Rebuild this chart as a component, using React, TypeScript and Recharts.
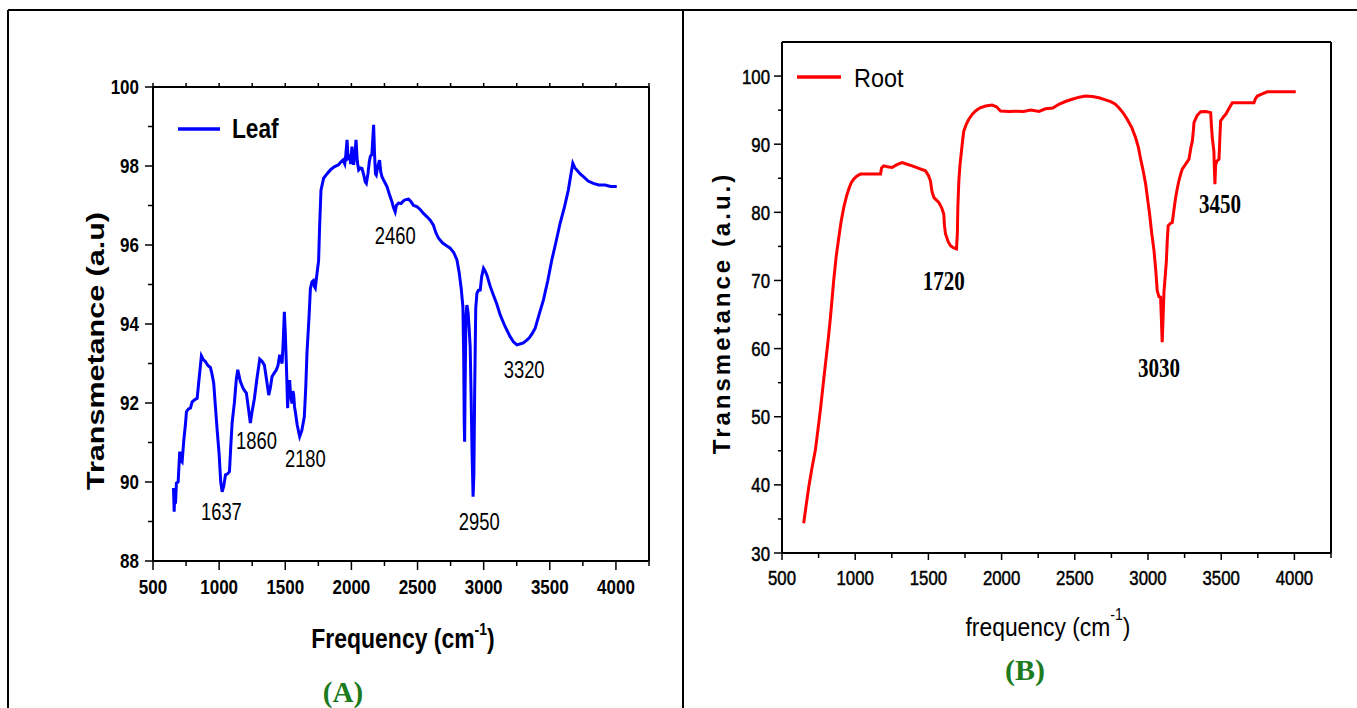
import React from 'react';
import { LineChart, Line, XAxis, YAxis, ReferenceDot, Legend } from 'recharts';

// ---------- Leaf (A) spectrum ----------
const leafFreq = [655, 660, 665, 670, 677, 690, 702, 710, 720, 733, 745, 753, 768, 783, 796, 815, 834, 845, 866, 880, 896, 915, 934, 945, 959, 972, 985, 1000, 1012, 1023, 1035, 1048, 1062, 1078, 1088, 1098, 1115, 1130, 1141, 1160, 1181, 1195, 1206, 1222, 1236, 1250, 1267, 1285, 1307, 1325, 1342, 1358, 1375, 1388, 1400, 1415, 1433, 1445, 1458, 1468, 1476, 1485, 1493, 1500, 1510, 1518, 1525, 1533, 1540, 1551, 1558, 1564, 1570, 1576, 1590, 1609, 1625, 1644, 1655, 1664, 1680, 1690, 1702, 1712, 1720, 1727, 1740, 1752, 1760, 1770, 1790, 1815, 1841, 1870, 1903, 1920, 1936, 1950, 1958, 1967, 1975, 1986, 1995, 2004, 2010, 2017, 2026, 2035, 2045, 2055, 2068, 2080, 2095, 2105, 2113, 2125, 2135, 2143, 2155, 2162, 2168, 2175, 2182, 2188, 2200, 2213, 2222, 2231, 2250, 2269, 2290, 2306, 2318, 2331, 2340, 2357, 2375, 2395, 2410, 2432, 2450, 2470, 2495, 2520, 2545, 2570, 2596, 2620, 2640, 2659, 2690, 2720, 2747, 2775, 2798, 2815, 2830, 2843, 2849, 2853, 2856, 2860, 2866, 2873, 2882, 2890, 2898, 2905, 2912, 2920, 2926, 2932, 2940, 2949, 2960, 2974, 2985, 2999, 3010, 3024, 3050, 3074, 3100, 3125, 3160, 3200, 3225, 3251, 3280, 3300, 3326, 3345, 3365, 3389, 3420, 3452, 3485, 3515, 3545, 3578, 3610, 3640, 3660, 3674, 3690, 3704, 3730, 3754, 3790, 3829, 3870, 3918, 3960, 4006];
const leafTrans = [89.85, 89.25, 89.75, 89.45, 89.97, 90.0, 90.77, 90.55, 90.51, 91.06, 91.45, 91.78, 91.85, 91.87, 92.03, 92.08, 92.12, 92.5, 93.19, 93.1, 93.05, 92.95, 92.9, 92.75, 92.5, 91.9, 91.32, 90.7, 90.0, 89.75, 89.9, 90.18, 90.2, 90.26, 90.9, 91.49, 92.0, 92.6, 92.84, 92.55, 92.37, 92.3, 92.25, 91.85, 91.49, 91.8, 92.12, 92.6, 93.11, 93.05, 92.96, 92.6, 92.2, 92.4, 92.67, 92.75, 92.84, 92.95, 93.22, 93.1, 93.0, 93.6, 94.31, 93.8, 92.8, 91.87, 92.4, 92.58, 92.2, 91.99, 92.3, 92.2, 91.9, 91.78, 91.45, 91.15, 91.3, 91.65, 92.4, 93.26, 94.2, 94.9, 95.07, 95.1, 94.95, 94.91, 95.28, 95.6, 96.5, 97.39, 97.69, 97.8, 97.9, 97.98, 98.03, 98.1, 98.15, 98.05, 98.3, 98.66, 98.2, 98.24, 98.05, 98.49, 98.2, 98.03, 98.3, 98.66, 98.1, 97.9, 97.95, 97.94, 97.75, 97.6, 97.56, 97.8, 98.1, 98.24, 98.3, 98.7, 99.04, 98.3, 97.8, 97.77, 98.0, 98.15, 97.85, 97.73, 97.6, 97.48, 97.25, 97.1, 96.95, 96.84, 97.0, 97.06, 97.05, 97.12, 97.15, 97.16, 97.1, 97.0, 96.97, 96.9, 96.8, 96.72, 96.63, 96.5, 96.3, 96.17, 96.05, 95.98, 95.92, 95.8, 95.62, 95.3, 94.9, 94.44, 93.2, 91.5, 91.02, 92.5, 94.2, 94.48, 94.3, 93.9, 93.43, 92.2, 90.8, 89.63, 90.2, 92.3, 94.4, 94.78, 94.85, 94.86, 95.2, 95.41, 95.35, 95.24, 94.95, 94.73, 94.5, 94.23, 93.95, 93.68, 93.55, 93.47, 93.5, 93.52, 93.59, 93.65, 93.75, 93.89, 94.25, 94.61, 95.1, 95.62, 96.05, 96.55, 96.95, 97.39, 97.8, 98.07, 97.95, 97.9, 97.8, 97.73, 97.62, 97.56, 97.52, 97.52, 97.48, 97.48];

const leafPeakLabels = ['1637', '1860', '2180', '2460', '2950', '3320'];
const leafPeakFreq = [1017, 1282, 1652, 2332, 2966, 3306];
const leafPeakTrans = [89.24, 91.04, 90.58, 96.23, 88.99, 92.84];

const leafXTicks = [500, 750, 1000, 1250, 1500, 1750, 2000, 2250, 2500, 2750, 3000, 3250, 3500, 3750, 4000, 4250];
const leafXLabels = [500, 1000, 1500, 2000, 2500, 3000, 3500, 4000];
const leafYTicks = [88, 89, 90, 91, 92, 93, 94, 95, 96, 97, 98, 99, 100];
const leafYLabels = [88, 90, 92, 94, 96, 98, 100];

// ---------- Root (B) spectrum ----------
const rootFreq = [648, 665, 683, 705, 728, 745, 762, 780, 797, 815, 831, 843, 853, 870, 888, 905, 922, 940, 956, 972, 990, 1010, 1036, 1100, 1173, 1180, 1195, 1220, 1252, 1285, 1320, 1350, 1389, 1430, 1480, 1500, 1514, 1525, 1537, 1555, 1571, 1590, 1605, 1610, 1617, 1635, 1651, 1670, 1692, 1698, 1701, 1708, 1716, 1726, 1735, 1742, 1760, 1776, 1800, 1822, 1850, 1890, 1935, 1965, 1993, 2050, 2100, 2150, 2200, 2255, 2300, 2350, 2391, 2440, 2482, 2530, 2574, 2620, 2665, 2710, 2745, 2775, 2801, 2830, 2858, 2890, 2915, 2935, 2950, 2968, 2984, 3000, 3011, 3025, 3041, 3053, 3063, 3075, 3086, 3092, 3097, 3103, 3109, 3117, 3125, 3132, 3138, 3155, 3166, 3178, 3189, 3200, 3211, 3223, 3234, 3255, 3280, 3293, 3303, 3310, 3314, 3335, 3360, 3395, 3428, 3434, 3439, 3450, 3454, 3457, 3462, 3470, 3485, 3490, 3496, 3515, 3531, 3555, 3576, 3650, 3724, 3735, 3747, 3780, 3815, 3900, 4009];
const rootTrans = [34.36, 37.0, 39.72, 42.5, 45.1, 48.0, 50.95, 54.5, 57.79, 61.2, 64.6, 67.5, 69.99, 73.5, 76.3, 78.8, 80.72, 82.3, 83.41, 84.3, 84.88, 85.3, 85.61, 85.61, 85.61, 86.5, 86.82, 86.7, 86.58, 87.0, 87.31, 87.1, 86.82, 86.5, 86.09, 85.4, 84.63, 83.0, 82.19, 81.8, 81.45, 80.7, 79.75, 78.0, 76.82, 75.7, 75.11, 74.8, 74.63, 77.0, 80.72, 84.63, 87.0, 89.02, 90.8, 91.95, 93.0, 93.66, 94.4, 94.88, 95.3, 95.61, 95.75, 95.5, 94.88, 94.8, 94.85, 94.8, 95.0, 94.8, 95.2, 95.3, 95.85, 96.3, 96.59, 96.9, 97.07, 97.0, 96.82, 96.5, 96.24, 95.9, 95.36, 94.6, 93.66, 92.4, 90.97, 89.5, 87.8, 86.0, 84.14, 81.5, 79.75, 77.0, 74.38, 71.5, 68.52, 67.6, 67.54, 64.0, 60.95, 64.5, 68.27, 70.5, 72.67, 76.0, 78.04, 78.4, 78.52, 80.5, 82.18, 83.5, 84.63, 85.6, 86.34, 87.0, 87.8, 89.5, 90.48, 92.0, 93.17, 94.2, 94.78, 94.8, 94.63, 92.5, 90.97, 89.0, 86.0, 84.14, 87.0, 87.5, 87.8, 90.5, 93.41, 94.0, 94.39, 95.3, 96.1, 96.1, 96.1, 96.7, 97.07, 97.4, 97.7, 97.7, 97.7];

const rootPeakLabels = ['1720', '3030', '3450'];
const rootPeakFreq = [1605, 3075, 3492];
const rootPeakTrans = [70.0, 57.2, 81.3];

const rootXTicks = [500, 750, 1000, 1250, 1500, 1750, 2000, 2250, 2500, 2750, 3000, 3250, 3500, 3750, 4000, 4250];
const rootXLabels = [500, 1000, 1500, 2000, 2500, 3000, 3500, 4000];
const rootYTicks = [30, 35, 40, 45, 50, 55, 60, 65, 70, 75, 80, 85, 90, 95, 100];
const rootYLabels = [30, 40, 50, 60, 70, 80, 90, 100];

const leafData = leafFreq.map((f, i) => ({ f, t: leafTrans[i] }));
const rootData = rootFreq.map((f, i) => ({ f, t: rootTrans[i] }));

const SANS = '"Liberation Sans", Arial, sans-serif';
const SERIF = '"Liberation Serif", "Times New Roman", serif';

type TickStyle = {
  side: 'left' | 'bottom' | 'top' | 'right';
  labels: number[];
  majorLen: number;
  minorLen: number;
  gap: number;
  size: number;
  weight: string;
  sx: number;
  showLabels: boolean;
  halo?: number;
};

function makeTick(o: TickStyle) {
  return (props: any) => {
    const { x, y, payload } = props;
    const v = payload.value;
    const isMajor = o.labels.includes(v);
    const len = isMajor ? o.majorLen : o.minorLen;
    const strokeProps = o.halo ? { stroke: '#000', strokeWidth: o.halo } : {};
    let line: any = null;
    let label: any = null;
    if (o.side === 'left') {
      line = <line x1={x - len} y1={y} x2={x} y2={y} stroke="#000" strokeWidth={1.5} />;
      if (o.showLabels && isMajor)
        label = (
          <text transform={`translate(${x - o.gap},${y}) scale(${o.sx},1)`} textAnchor="end" dy="0.36em"
            fontSize={o.size} fontWeight={o.weight} fontFamily={SANS} fill="#000" {...strokeProps}>{v}</text>
        );
    } else if (o.side === 'right') {
      line = <line x1={x} y1={y} x2={x + len} y2={y} stroke="#000" strokeWidth={1.5} />;
    } else if (o.side === 'top') {
      line = <line x1={x} y1={y - len} x2={x} y2={y} stroke="#000" strokeWidth={1.5} />;
    } else {
      line = <line x1={x} y1={y} x2={x} y2={y + len} stroke="#000" strokeWidth={1.5} />;
      if (o.showLabels && isMajor)
        label = (
          <text transform={`translate(${x},${y + o.gap}) scale(${o.sx},1)`} textAnchor="middle"
            fontSize={o.size} fontWeight={o.weight} fontFamily={SANS} fill="#000" {...strokeProps}>{v}</text>
        );
    }
    return (
      <g>
        {line}
        {label}
      </g>
    );
  };
}

function peakLabel(text: string, family: string, size: number, weight: string, sx: number) {
  return (props: any) => {
    const vb = props.viewBox || {};
    const cx = (vb.x || 0) + (vb.width || 0) / 2;
    const cy = (vb.y || 0) + (vb.height || 0) / 2;
    return (
      <text transform={`translate(${cx},${cy}) scale(${sx},1)`} textAnchor="middle" dy="0.36em"
        fontSize={size} fontWeight={weight} fontFamily={family} fill="#000">{text}</text>
    );
  };
}

function legendContent(lineX1: number, lineX2: number, lineY: number, textX: number, textY: number, size: number, weight: string, sx: number) {
  return (p: any) => {
    const item = (p.payload || [])[0] || { value: '', color: '#000' };
    return (
      <svg width={160} height={50} style={{ overflow: 'visible' }}>
        <line x1={lineX1} y1={lineY} x2={lineX2} y2={lineY} stroke={item.color} strokeWidth={3.5} />
        <text transform={`translate(${textX},${textY}) scale(${sx},1)`} fontSize={size} fontWeight={weight}
          fontFamily={SANS} fill="#000">{item.value}</text>
      </svg>
    );
  };
}

const AX = { stroke: '#000', strokeWidth: 2 };

function LeafChart() {
  return (
    <LineChart width={684} height={708} data={leafData} margin={{ top: 86, left: 152, right: 34, bottom: 146 }}>
      <XAxis dataKey="f" type="number" domain={[500, 4250]} ticks={leafXTicks} interval={0} height={1}
        axisLine={AX} tickLine={false} tickSize={0} tickMargin={0}
        tick={makeTick({ side: 'bottom', labels: leafXLabels, majorLen: 9, minorLen: 5, gap: 33, size: 20, weight: 'bold', sx: 0.85, showLabels: true })} />
      <XAxis xAxisId="top" orientation="top" dataKey="f" type="number" domain={[500, 4250]} ticks={leafXTicks} interval={0} height={1}
        axisLine={AX} tickLine={false} tickSize={0} tickMargin={0}
        tick={makeTick({ side: 'top', labels: [], majorLen: 4, minorLen: 4, gap: 0, size: 0, weight: 'normal', sx: 1, showLabels: false })} />
      <YAxis type="number" domain={[88, 100]} ticks={leafYTicks} interval={0} width={1}
        axisLine={AX} tickLine={false} tickSize={0} tickMargin={0}
        tick={makeTick({ side: 'left', labels: leafYLabels, majorLen: 8, minorLen: 5, gap: 14, size: 20, weight: 'bold', sx: 0.85, showLabels: true })} />
      <YAxis yAxisId="right" orientation="right" type="number" domain={[88, 100]} ticks={leafYTicks} interval={0} width={1}
        axisLine={AX} tickLine={false} tickSize={0} tickMargin={0}
        tick={makeTick({ side: 'right', labels: [], majorLen: 4, minorLen: 4, gap: 0, size: 0, weight: 'normal', sx: 1, showLabels: false })} />
      <Legend layout="horizontal" verticalAlign="middle" align="center"
        wrapperStyle={{ left: 170, top: 105, width: 160, height: 50 }}
        content={legendContent(8, 50, 24, 62, 33, 28, 'bold', 0.81)} />
      <Line name="Leaf" dataKey="t" stroke="#0000ff" strokeWidth={3} dot={false} type="linear" isAnimationActive={false} />
      {leafPeakLabels.map((lab, i) => (
        <ReferenceDot key={lab} x={leafPeakFreq[i]} y={leafPeakTrans[i]} r={1} fill="none" stroke="none" ifOverflow="visible"
          label={peakLabel(lab, SANS, 23, 'normal', 0.8)} />
      ))}
    </LineChart>
  );
}

function RootChart() {
  return (
    <LineChart width={673} height={708} data={rootData} margin={{ top: 41, left: 97, right: 25, bottom: 154 }}>
      <XAxis dataKey="f" type="number" domain={[500, 4250]} ticks={rootXTicks} interval={0} height={1}
        axisLine={AX} tickLine={false} tickSize={0} tickMargin={0}
        tick={makeTick({ side: 'bottom', labels: rootXLabels, majorLen: 7, minorLen: 5, gap: 32, size: 21, weight: 'normal', sx: 0.8, showLabels: true, halo: 0.5 })} />
      <XAxis xAxisId="top" orientation="top" dataKey="f" type="number" domain={[500, 4250]} height={1}
        axisLine={AX} tickLine={false} tick={false} />
      <YAxis type="number" domain={[30, 105]} ticks={rootYTicks} interval={0} width={1}
        axisLine={AX} tickLine={false} tickSize={0} tickMargin={0}
        tick={makeTick({ side: 'left', labels: rootYLabels, majorLen: 8, minorLen: 4, gap: 12, size: 21, weight: 'normal', sx: 0.8, showLabels: true, halo: 0.5 })} />
      <YAxis yAxisId="right" orientation="right" type="number" domain={[30, 105]} width={1}
        axisLine={AX} tickLine={false} tick={false} />
      <Legend layout="horizontal" verticalAlign="middle" align="center"
        wrapperStyle={{ left: 100, top: 52, width: 160, height: 50 }}
        content={legendContent(13, 57, 25, 70, 34.7, 26, 'normal', 0.9)} />
      <Line name="Root" dataKey="t" stroke="#ff0000" strokeWidth={3} dot={false} type="linear" isAnimationActive={false} />
      {rootPeakLabels.map((lab, i) => (
        <ReferenceDot key={lab} x={rootPeakFreq[i]} y={rootPeakTrans[i]} r={1} fill="none" stroke="none" ifOverflow="visible"
          label={peakLabel(lab, SERIF, 27, 'bold', 0.78)} />
      ))}
    </LineChart>
  );
}

export default function App() {
  return (
    <div style={{ position: 'absolute', left: 0, top: 0, width: 1357, height: 708, background: '#fff', overflow: 'hidden' }}>
      <div style={{ position: 'absolute', left: 0, top: 0 }}>
        <LeafChart />
      </div>
      <div style={{ position: 'absolute', left: 684, top: 0 }}>
        <RootChart />
      </div>
      <svg width={1357} height={708} style={{ position: 'absolute', left: 0, top: 0, pointerEvents: 'none' }}>
        {/* table borders */}
        <line x1={8} y1={10} x2={1357} y2={10} stroke="#000" strokeWidth={2} />
        <line x1={8} y1={10} x2={8} y2={708} stroke="#000" strokeWidth={2} />
        <line x1={683} y1={10} x2={683} y2={708} stroke="#000" strokeWidth={2} />

        {/* Leaf axis titles */}
        <text transform="translate(95,351) rotate(-90) scale(1,0.78)" textAnchor="middle" dy="0.36em"
          fontSize={30.5} fontWeight="bold" fontFamily={SANS} fill="#000">Transmetance (a.u)</text>
        <text transform="translate(403,648) scale(0.82,1)" textAnchor="middle" fontSize={28} fontWeight="bold" fontFamily={SANS} fill="#000">
          Frequency (cm<tspan dy={-13} fontSize={17}>-1</tspan><tspan dy={13}>)</tspan>
        </text>
        <text x={343} y={702} textAnchor="middle" fontSize={29} fontWeight="bold" fontFamily={SERIF} fill="#1d7a1d">(A)</text>

        {/* Root axis titles */}
        <text transform="translate(721,313) rotate(-90)" textAnchor="middle" dy="0.36em" letterSpacing={3}
          fontSize={24} fontWeight="bold" fontFamily={SANS} fill="#000">Transmetance (a.u.)</text>
        <text transform="translate(1048,636) scale(0.88,1)" textAnchor="middle" fontSize={26} fontFamily={SANS} fill="#000">
          frequency (cm<tspan dy={-16} fontSize={16}>-1</tspan><tspan dy={16}>)</tspan>
        </text>
        <text x={1025} y={680} textAnchor="middle" fontSize={30} fontWeight="bold" fontFamily={SERIF} fill="#1d7a1d">(B)</text>
      </svg>
    </div>
  );
}
